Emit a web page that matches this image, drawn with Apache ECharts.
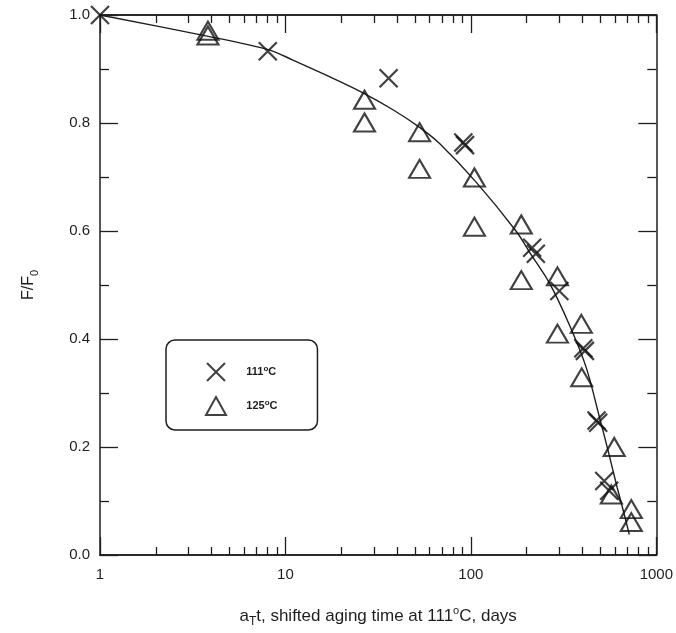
<!DOCTYPE html>
<html>
<head>
<meta charset="utf-8">
<script src="https://cdn.jsdelivr.net/npm/echarts@6/dist/echarts.min.js"></script>
<style>
  html, body { margin: 0; padding: 0; background: #fff; }
  #root { width: 676px; height: 633px; }
</style>
</head>
<body>
<div id="root"></div>
<script>
// aging data, x = shifted aging time (days), y = F/F0
var cross111 = [
    [1, 1.0], [8.03, 0.933], [36, 0.883], [91, 0.764], [93, 0.759],
    [214, 0.569], [224, 0.558], [300, 0.489], [404, 0.383], [412, 0.378],
    [476, 0.249], [486, 0.245], [524, 0.137], [557, 0.119]
];
var tri125 = [
    [3.82, 0.971], [3.82, 0.962], [26.7, 0.843], [26.7, 0.801],
    [52.9, 0.783], [52.9, 0.715], [104.5, 0.699], [104.5, 0.608],
    [187, 0.612], [187, 0.509], [293, 0.516], [293, 0.410],
    [394, 0.428], [396, 0.329], [593, 0.200], [572, 0.112],
    [733, 0.085], [733, 0.061]
];
var fitCurve = [
    [1, 1.0], [3.9, 0.960], [8.23, 0.935], [10.9, 0.917], [16.7, 0.888],
    [25.1, 0.859], [37.8, 0.825], [52.9, 0.792], [67.8, 0.762], [107, 0.690],
    [176, 0.599], [207, 0.561], [265, 0.504], [340, 0.426], [419, 0.347],
    [493, 0.256], [558, 0.184], [615, 0.125], [671, 0.076], [715, 0.038]
];
var majorX = [1, 10, 100, 1000];
var minorX = [2, 3, 4, 5, 6, 7, 8, 9, 20, 30, 40, 50, 60, 70, 80, 90, 200, 300, 400, 500, 600, 700, 800, 900];
var legendNames = ['111', '125'];

var ink = '#1e1e1e';
var crossPath = 'path://M0,0L10,10M10,0L0,10';
var font = 'Liberation Sans, Arial, sans-serif';

function xAxisOf(pos, ticks, len, showLabel) {
    return {
        type: 'log', logBase: 10, min: 1, max: 1000, position: pos,
        gridIndex: 0,
        axisLine: { show: true, onZero: false, lineStyle: { color: ink, width: 1.5 } },
        axisTick: { show: true, inside: true, length: len, customValues: ticks, lineStyle: { color: ink, width: 1.3 } },
        axisLabel: {
            show: showLabel, customValues: majorX, margin: 12,
            color: ink, fontSize: 15, fontFamily: font,
            formatter: function (v) { return String(Math.round(v)); }
        },
        splitLine: { show: false },
        minorTick: { show: false }
    };
}
function yAxisOf(pos, showLabel) {
    return {
        type: 'value', min: 0, max: 1, interval: 0.2, position: pos,
        axisLine: { show: true, lineStyle: { color: ink, width: 1.5 } },
        axisTick: { show: true, inside: true, length: 18, lineStyle: { color: ink, width: 1.3 } },
        minorTick: { show: true, splitNumber: 2, length: 9, lineStyle: { color: ink, width: 1.3 } },
        axisLabel: {
            show: showLabel, margin: 10, color: ink, fontSize: 15, fontFamily: font,
            formatter: function (v) { return v.toFixed(1); }
        },
        splitLine: { show: false }
    };
}

var chart = echarts.init(document.getElementById('root'));
var xMain = xAxisOf('bottom', majorX, 18, true);
xMain.name = 'a{sub|T}t, shifted aging time at 111{sup|o}C, days';
xMain.nameLocation = 'middle';
xMain.nameGap = 49;
xMain.nameTextStyle = {
    color: ink, fontSize: 17, fontFamily: font,
    rich: {
        sub: { fontSize: 12, color: ink, fontFamily: font, padding: [12, 0, 0, 0] },
        sup: { fontSize: 11, color: ink, fontFamily: font, padding: [0, 0, 10, 0] }
    }
};
var yMain = yAxisOf('left', true);
yMain.name = 'F/F{sub|0}';
yMain.nameLocation = 'middle';
yMain.nameGap = 60;
yMain.nameRotate = 90;
yMain.nameTextStyle = {
    color: ink, fontSize: 16, fontFamily: font,
    rich: { sub: { fontSize: 11, color: ink, fontFamily: font, padding: [12, 0, 0, 0] } }
};

var option = {
    backgroundColor: '#fff',
    animation: false,
    grid: { left: 100, right: 19, top: 15, bottom: 64 },
    legend: {
        data: legendNames,
        orient: 'vertical',
        left: 166, top: 340,
        itemWidth: 20, itemHeight: 18, itemGap: 14,
        padding: [22, 40, 14, 39],
        borderColor: ink, borderWidth: 1.5, borderRadius: 9,
        selectedMode: false,
        formatter: function (n) { return '     ' + n + '{sup|o}C'; },
        textStyle: {
            color: ink, fontSize: 11, fontWeight: 'bold', fontFamily: font,
            rich: { sup: { fontSize: 8, fontWeight: 'bold', color: ink, padding: [0, 0, 7, 0] } }
        }
    },
    xAxis: [
        xMain,
        xAxisOf('bottom', minorX, 8, false),
        xAxisOf('top', majorX, 18, false),
        xAxisOf('top', minorX, 8, false)
    ],
    yAxis: [yMain, yAxisOf('right', false)],
    series: [
        {
            name: 'fit', type: 'line', data: fitCurve, smooth: 0.3,
            showSymbol: false, symbol: 'none',
            lineStyle: { color: ink, width: 1.4 }, z: 1
        },
        {
            name: '111', type: 'scatter', data: cross111,
            symbol: crossPath, symbolSize: 18,
            itemStyle: { color: 'rgba(0,0,0,0)', borderColor: '#111', borderWidth: 2.2 }, z: 3
        },
        {
            name: '125', type: 'scatter', data: tri125,
            symbol: 'triangle', symbolSize: [21, 18],
            itemStyle: { color: 'rgba(0,0,0,0)', borderColor: '#111', borderWidth: 2.1 }, z: 3
        }
    ]
};
chart.setOption(option);
</script>
</body>
</html>
